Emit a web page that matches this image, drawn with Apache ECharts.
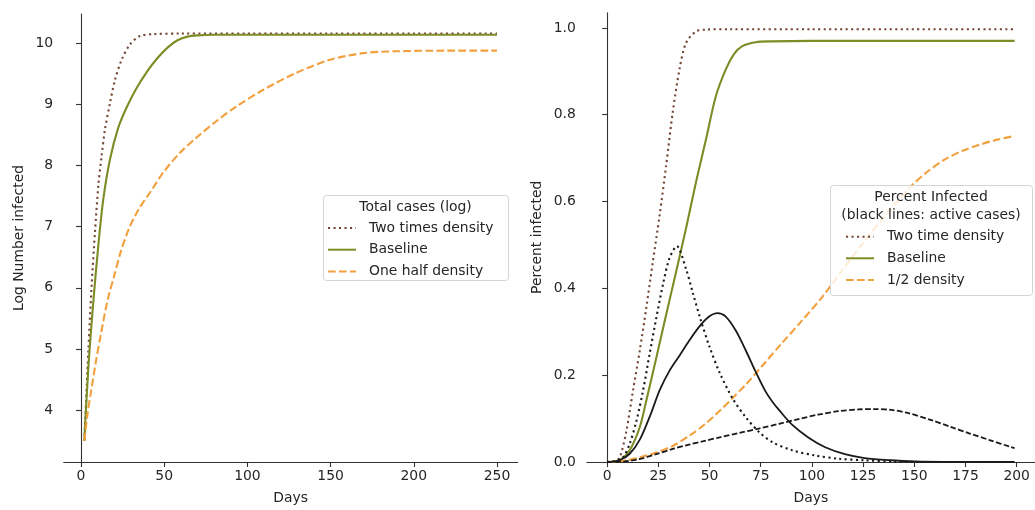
<!DOCTYPE html>
<html>
<head>
<meta charset="utf-8">
<script src="https://cdn.jsdelivr.net/npm/echarts@6/dist/echarts.min.js"></script>
<style>
  html, body { margin: 0; padding: 0; background: #fff; }
  #chart { width: 1035px; height: 510px; }
</style>
</head>
<body>
<div id="chart"></div>
<script>
// ---- left panel: log number infected ----
const logTwoDays = [2, 4.4, 6.4, 8.4, 10.4, 12.4, 14.4, 17.4, 20.4, 24.4, 29.4, 35.4, 43.4, 60, 100, 150, 200, 250];
const logTwoVals = [3.5, 4.96, 6.04, 6.91, 7.67, 8.16, 8.59, 9.02, 9.4, 9.73, 9.98, 10.12, 10.15, 10.16, 10.16, 10.16, 10.16, 10.16];

const logBaseDays = [2, 4.4, 7.4, 10.4, 13.4, 17.4, 22.4, 27.4, 33, 40, 46, 52, 58, 64, 70, 80, 120, 250];
const logBaseVals = [3.5, 4.69, 5.77, 6.69, 7.45, 8.1, 8.62, 8.95, 9.25, 9.55, 9.76, 9.93, 10.05, 10.11, 10.13, 10.14, 10.14, 10.14];

const logHalfDays = [2, 4, 6, 9, 12, 16, 20, 24, 29, 35, 42, 49.5, 59.5, 69.5, 81.5, 93.6, 109.6, 129.6, 149.6, 169.7, 189.7, 220, 250];
const logHalfVals = [3.5, 3.95, 4.3, 4.8, 5.25, 5.8, 6.2, 6.6, 6.98, 7.3, 7.58, 7.89, 8.21, 8.46, 8.73, 8.97, 9.24, 9.52, 9.73, 9.84, 9.87, 9.88, 9.88];

const logXTicks = [0, 50, 100, 150, 200, 250];
const logYTicks = [4, 5, 6, 7, 8, 9, 10];

// ---- right panel: percent infected ----
const pctTwoDays = [0, 4, 6.2, 9.4, 12.6, 15.9, 19.1, 22.3, 25.6, 28.8, 32, 35.3, 38.5, 43.4, 48, 60, 100, 150, 199];
const pctTwoVals = [0, 0.002, 0.011, 0.072, 0.164, 0.256, 0.355, 0.461, 0.568, 0.683, 0.805, 0.904, 0.965, 0.992, 0.996, 0.997, 0.997, 0.997, 0.997];

const pctBaseDays = [0, 3, 6.2, 11, 15.9, 19.1, 24, 28.8, 33.7, 38.5, 43.4, 48.3, 53.1, 58, 62, 66, 72.5, 80, 100, 150, 199];
const pctBaseVals = [0, 0.001, 0.004, 0.027, 0.08, 0.141, 0.24, 0.339, 0.439, 0.538, 0.645, 0.744, 0.843, 0.905, 0.94, 0.958, 0.967, 0.969, 0.97, 0.97, 0.97];

const pctHalfDays = [0, 5, 10, 16, 24, 32, 40, 48, 55, 61, 68, 76, 85, 95, 105, 115, 125, 135, 142, 149, 157, 165, 173, 182, 190, 199];
const pctHalfVals = [0, 0.001, 0.004, 0.011, 0.022, 0.037, 0.06, 0.088, 0.118, 0.146, 0.18, 0.223, 0.272, 0.325, 0.38, 0.443, 0.505, 0.563, 0.602, 0.638, 0.671, 0.697, 0.716, 0.731, 0.742, 0.751];

// active cases (black lines)
const actTwoDays = [0, 4, 7.8, 11, 14.3, 17.5, 20.7, 24, 27.2, 30.4, 34, 38.5, 41.8, 45.5, 50, 55, 61.3, 67.7, 74.2, 80.6, 90.3, 101.6, 112.9, 125.8, 140, 160, 199];
const actTwoVals = [0, 0.002, 0.011, 0.042, 0.095, 0.164, 0.248, 0.332, 0.408, 0.469, 0.497, 0.445, 0.39, 0.33, 0.265, 0.205, 0.146, 0.103, 0.069, 0.046, 0.027, 0.015, 0.0076, 0.004, 0.001, 0, 0];

const actBaseDays = [0, 6, 11, 16, 21, 25.6, 30.4, 35.3, 40.1, 45, 49.8, 53.9, 57.9, 62.8, 67.6, 72.5, 77.4, 80.5, 83.9, 90.3, 98.4, 106.5, 116.1, 125.8, 138.7, 150, 170, 199];
const actBaseVals = [0, 0.004, 0.019, 0.052, 0.107, 0.165, 0.21, 0.245, 0.28, 0.312, 0.335, 0.343, 0.335, 0.303, 0.258, 0.208, 0.162, 0.14, 0.12, 0.086, 0.056, 0.034, 0.018, 0.009, 0.004, 0.0015, 0.0003, 0];

const actHalfDays = [0, 8, 15, 24, 32, 40, 47, 55, 64.5, 74, 84, 93.5, 103, 113, 122.6, 130.6, 138.7, 146.8, 158, 167.7, 177.4, 187.1, 196.8, 199];
const actHalfVals = [0, 0.001, 0.006, 0.018, 0.03, 0.04, 0.048, 0.057, 0.067, 0.077, 0.088, 0.099, 0.109, 0.117, 0.121, 0.122, 0.12, 0.113, 0.097, 0.081, 0.065, 0.05, 0.035, 0.032];

const pctXTicks = [0, 25, 50, 75, 100, 125, 150, 175, 200];
const pctYTicks = [0, 0.2, 0.4, 0.6, 0.8, 1.0];

const BROWN = '#734634';
const GREEN = '#7d8c25';
const ORANGE = '#f2a03d';
const BLACK = '#1a1a1a';
const TEXT = '#262626';
const FONT = 'DejaVu Sans';
const FS = 13.9;

const zip = (xs, ys) => xs.map((x, i) => [x, ys[i]]);

const DOT = [2.1, 3.4];
const DASH = [7.7, 3.3];

const axisCommon = {
  type: 'value',
  axisLine: { show: true, lineStyle: { color: '#333', width: 1.1 } },
  axisTick: { show: true, inside: false, length: 5, lineStyle: { color: '#333', width: 1.1 } },
  splitLine: { show: false },
  nameTextStyle: { color: TEXT, fontFamily: FONT, fontSize: FS },
  nameLocation: 'middle',
};

const lineSeries = (name, xi, yi, data, color, type, width) => ({
  name, type: 'line', xAxisIndex: xi, yAxisIndex: yi,
  data, smooth: 0.3, symbol: 'none', showSymbol: false,
  lineStyle: { color, width, type, cap: 'butt' },
  itemStyle: { color },
  z: 2,
});

// legend: line sample only, no marker
const legendCommon = {
  orient: 'vertical', padding: 0,
  itemWidth: 28, itemHeight: 14,
  selectedMode: false,
  itemStyle: { opacity: 0 },
  textStyle: { color: TEXT, fontFamily: FONT, fontSize: FS, lineHeight: 14, padding: [0, 0, 0, 8] },
};

const option = {
  animation: false,
  backgroundColor: '#fff',
  textStyle: { fontFamily: FONT },
  grid: [
    { left: 63.7, top: 14, width: 453.9, height: 450, containLabel: false },
    { left: 586.8, top: 12.7, width: 451.2, height: 452.8, containLabel: false },
  ],
  xAxis: [
    Object.assign({}, axisCommon, {
      gridIndex: 0, min: -10.4, max: 262.4, name: 'Days', nameGap: 29,
      axisTick: Object.assign({}, axisCommon.axisTick, { customValues: logXTicks }),
      axisLabel: { customValues: logXTicks, color: TEXT, fontFamily: FONT, fontSize: FS, margin: 7 },
    }),
    Object.assign({}, axisCommon, {
      gridIndex: 1, min: -9.95, max: 208.95, name: 'Days', nameGap: 29,
      axisTick: Object.assign({}, axisCommon.axisTick, { customValues: pctXTicks }),
      axisLabel: { customValues: pctXTicks, color: TEXT, fontFamily: FONT, fontSize: FS, margin: 7 },
    }),
  ],
  yAxis: [
    Object.assign({}, axisCommon, {
      gridIndex: 0, min: 3.15, max: 10.48, name: 'Log Number infected', nameGap: 37,
      axisTick: Object.assign({}, axisCommon.axisTick, { customValues: logYTicks }),
      axisLabel: { customValues: logYTicks, color: TEXT, fontFamily: FONT, fontSize: FS, margin: 10.5 },
    }),
    Object.assign({}, axisCommon, {
      gridIndex: 1, min: 0, max: 1.035, name: 'Percent infected', nameGap: 42,
      axisTick: Object.assign({}, axisCommon.axisTick, { customValues: pctYTicks }),
      axisLabel: {
        customValues: pctYTicks, color: TEXT, fontFamily: FONT, fontSize: FS, margin: 11,
        formatter: (v) => v.toFixed(1),
      },
    }),
  ],
  legend: [
    Object.assign({}, legendCommon, {
      data: ['Two times density', 'Baseline', 'One half density'],
      left: 327, top: 221, itemGap: 7.7,
    }),
    Object.assign({}, legendCommon, {
      data: ['Two time density', 'Baseline', '1/2 density'],
      left: 845, top: 229.7, itemGap: 7.6,
    }),
  ],
  graphic: [
    // legend frames (semi transparent like matplotlib)
    { type: 'rect', z: 3, shape: { x: 323.5, y: 195.5, width: 185, height: 85, r: 3 },
      style: { fill: 'rgba(255,255,255,0.8)', stroke: '#d4d4d4', lineWidth: 1 } },
    { type: 'text', z: 5, x: 415.5, y: 207,
      style: { text: 'Total cases (log)', fill: TEXT, font: FS + 'px ' + FONT, align: 'center', verticalAlign: 'middle' } },
    { type: 'rect', z: 3, shape: { x: 830.5, y: 185.5, width: 202, height: 110, r: 3 },
      style: { fill: 'rgba(255,255,255,0.8)', stroke: '#d4d4d4', lineWidth: 1 } },
    { type: 'text', z: 5, x: 931, y: 197,
      style: { text: 'Percent Infected', fill: TEXT, font: FS + 'px ' + FONT, align: 'center', verticalAlign: 'middle' } },
    { type: 'text', z: 5, x: 931, y: 215,
      style: { text: '(black lines: active cases)', fill: TEXT, font: FS + 'px ' + FONT, align: 'center', verticalAlign: 'middle' } },
  ],
  series: [
    lineSeries('Two times density', 0, 0, zip(logTwoDays, logTwoVals), BROWN, DOT, 2.1),
    lineSeries('Baseline', 0, 0, zip(logBaseDays, logBaseVals), GREEN, 'solid', 2.1),
    lineSeries('One half density', 0, 0, zip(logHalfDays, logHalfVals), ORANGE, DASH, 2.1),

    lineSeries('Two time density', 1, 1, zip(pctTwoDays, pctTwoVals), BROWN, DOT, 2.1),
    lineSeries('Baseline', 1, 1, zip(pctBaseDays, pctBaseVals), GREEN, 'solid', 2.1),
    lineSeries('1/2 density', 1, 1, zip(pctHalfDays, pctHalfVals), ORANGE, DASH, 2.1),

    lineSeries('Two time density (active)', 1, 1, zip(actTwoDays, actTwoVals), BLACK, DOT, 2.1),
    lineSeries('Baseline (active)', 1, 1, zip(actBaseDays, actBaseVals), BLACK, 'solid', 1.8),
    lineSeries('1/2 density (active)', 1, 1, zip(actHalfDays, actHalfVals), BLACK, [5.6, 2.4], 1.8),
  ],
};

const chart = echarts.init(document.getElementById('chart'), null, { renderer: 'canvas' });
chart.setOption(option);
</script>
</body>
</html>
